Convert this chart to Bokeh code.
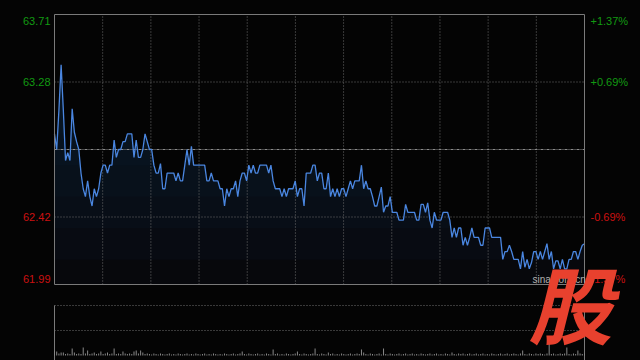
from bokeh.plotting import figure
from bokeh.models import Range1d, Label
from bokeh.embed import file_html
from bokeh.resources import INLINE

# ---------------- data ----------------
price = [
    62.95, 62.85, 63.10, 63.39, 63.10, 62.78, 62.83, 62.78, 63.11, 62.96,
    62.90, 62.85, 62.70, 62.60, 62.55, 62.65, 62.55, 62.49, 62.60, 62.55,
    62.60, 62.70, 62.75, 62.75, 62.70, 62.75, 62.75, 62.91, 62.80, 62.85,
    62.85, 62.90, 62.90, 62.95, 62.95, 62.95, 62.80, 62.91, 62.80, 62.80,
    62.85, 62.95, 62.90, 62.85, 62.85, 62.75, 62.70, 62.70, 62.76, 62.60,
    62.60, 62.70, 62.70, 62.70, 62.70, 62.65, 62.70, 62.65, 62.65, 62.75,
    62.85, 62.75, 62.87, 62.75, 62.75, 62.75, 62.75, 62.75, 62.75, 62.65,
    62.65, 62.70, 62.65, 62.65, 62.65, 62.60, 62.60, 62.49, 62.60, 62.55,
    62.60, 62.60, 62.65, 62.55, 62.65, 62.70, 62.70, 62.65, 62.75, 62.70,
    62.75, 62.70, 62.70, 62.75, 62.75, 62.75, 62.75, 62.70, 62.75, 62.65,
    62.60, 62.60, 62.60, 62.55, 62.60, 62.55, 62.60, 62.60, 62.60, 62.65,
    62.55, 62.60, 62.60, 62.49, 62.70, 62.70, 62.70, 62.75, 62.75, 62.65,
    62.70, 62.70, 62.60, 62.60, 62.70, 62.55, 62.60, 62.55, 62.60, 62.55,
    62.60, 62.60, 62.55, 62.60, 62.65, 62.60, 62.65, 62.65, 62.65, 62.75,
    62.60, 62.65, 62.60, 62.60, 62.55, 62.49, 62.49, 62.55, 62.61, 62.45,
    62.49, 62.49, 62.55, 62.45, 62.45, 62.45, 62.40, 62.40, 62.40, 62.50,
    62.45, 62.45, 62.45, 62.45, 62.40, 62.40, 62.50, 62.50, 62.45, 62.51,
    62.40, 62.35, 62.45, 62.40, 62.40, 62.40, 62.45, 62.45, 62.45, 62.40,
    62.29, 62.35, 62.29, 62.35, 62.35, 62.24, 62.29, 62.24, 62.29, 62.35,
    62.29, 62.29, 62.29, 62.24, 62.24, 62.35, 62.35, 62.35, 62.29, 62.29,
    62.29, 62.29, 62.29, 62.15, 62.20, 62.20, 62.24, 62.20, 62.15, 62.15,
    62.15, 62.09, 62.20, 62.10, 62.15, 62.09, 62.13, 62.20, 62.20, 62.15,
    62.20, 62.15, 62.20, 62.25, 62.15, 62.20, 62.09, 62.14, 62.14, 62.09,
    62.15, 62.09, 62.09, 62.15, 62.15, 62.20, 62.20, 62.15, 62.20, 62.24, 62.25,
]

volume = [
    500, 400, 200, 300, 300, 150, 200, 150, 700, 300,
    150, 200, 150, 800, 200, 500, 150, 200, 300, 150,
    200, 400, 150, 200, 300, 150, 200, 700, 150, 200,
    150, 400, 200, 150, 200, 150, 400, 500, 200, 500,
    300, 150, 200, 150, 100, 200, 150, 100, 200, 150,
    100, 150, 200, 100, 150, 100, 200, 150, 100, 150,
    200, 100, 150, 100, 200, 150, 100, 150, 200, 100,
    150, 100, 200, 150, 100, 150, 100, 200, 150, 100,
    150, 200, 100, 150, 200, 400, 150, 100, 200, 150,
    100, 150, 200, 100, 150, 100, 200, 150, 100, 600,
    150, 200, 100, 150, 100, 200, 150, 100, 150, 200,
    400, 150, 100, 200, 150, 100, 150, 200, 700, 150,
    100, 200, 150, 100, 300, 150, 200, 100, 150, 100,
    200, 150, 100, 150, 200, 100, 150, 200, 150, 600,
    300, 150, 100, 200, 150, 100, 150, 200, 100, 700,
    150, 100, 200, 150, 100, 150, 200, 100, 150, 200,
    100, 150, 200, 100, 150, 100, 200, 150, 100, 150,
    200, 100, 150, 200, 100, 150, 100, 200, 150, 100,
    300, 150, 100, 200, 150, 200, 100, 150, 200, 100,
    150, 200, 100, 150, 200, 100, 150, 100, 200, 150,
    100, 150, 200, 100, 150, 200, 100, 150, 200, 150,
    100, 200, 500, 150, 100, 200, 150, 100, 200, 150,
    200, 150, 100, 200, 1200, 150, 200, 100, 150, 200,
    150, 200, 800, 150, 100, 200, 150, 500, 200, 150,
    200,
]

prev_close = 62.85
price_ticks = [63.71, 63.28, 62.42, 61.99]
pct_labels = ["+1.37%", "+0.69%", "-0.69%", "-1.37%"]
up_color, down_color = "#129a12", "#cc1111"
n_min = 240
n_cols = 11
vol_panel_top = 5000

minutes = list(range(len(price)))
vol_minutes = list(range(len(volume)))
p_lo, p_hi = min(price_ticks), max(price_ticks)

# ---------------- geometry (canvas pixels, frame = whole canvas) ----------------
W, H = 640, 360
x0_px, x1_px = 54, 584          # minute 0 / minute 240
ptop_px, pbot_px = 14, 284      # top / bottom price tick
vbase_px = 355                  # volume zero line
ppx = (x1_px - x0_px) / n_min
ppy = (pbot_px - ptop_px) / (p_hi - p_lo)
vpu = 100.0                     # volume units per pixel

x_range = Range1d(-x0_px / ppx, n_min + (W - x1_px) / ppx)
y_range = Range1d(p_lo - (H - pbot_px) / ppy, p_hi + ptop_px / ppy)


def px_to_price(py):
    return p_hi - (py - ptop_px) / ppy


def px_to_min(px):
    return (px - x0_px) / ppx


p = figure(width=W, height=H, x_range=x_range, y_range=y_range,
           output_backend="svg", toolbar_location=None, title=None,
           x_axis_location=None, y_axis_location=None,
           min_border_left=0, min_border_right=0,
           min_border_top=0, min_border_bottom=0)
p.extra_y_ranges = {"vol": Range1d(-(H - vbase_px) * vpu, vbase_px * vpu)}
p.background_fill_color = "#040404"
p.border_fill_color = "#040404"
p.outline_line_color = None
p.xgrid.visible = False
p.ygrid.visible = False

grid_col = "#6e6e6e"
border_col = "#7a7a7a"

# area fill (simulated vertical gradient)
p.varea(x=minutes, y1=[p_lo] * len(price), y2=price, fill_color="#07080c")
for lvl in (62.15, 62.35, 62.55, 62.75, 62.95):
    p.varea(x=minutes, y1=[min(lvl, v) for v in price], y2=price,
            fill_color="#10203a", fill_alpha=0.14)

# grid of main panel
vx = [k * n_min / n_cols for k in range(1, n_cols)]
p.segment(x0=vx, y0=[p_lo] * len(vx), x1=vx, y1=[p_hi] * len(vx),
          line_color=grid_col, line_dash="1 2", line_width=1)
hy = [price_ticks[1], price_ticks[2]]
p.segment(x0=[0, 0], y0=hy, x1=[n_min, n_min], y1=hy,
          line_color=grid_col, line_dash="1 2", line_width=1)
p.segment(x0=[0], y0=[prev_close], x1=[n_min], y1=[prev_close],
          line_color="#8c8c8c", line_dash="3 1 1 1", line_width=1)

# price line
p.line(minutes, price, line_color="#4a86e0", line_width=1.3)

# main frame
p.quad(left=[0], right=[n_min], bottom=[p_lo], top=[p_hi],
       fill_color=None, line_color=border_col, line_width=1)

# volume panel
p.segment(x0=[0, 0], y0=[vol_panel_top, vol_panel_top / 2], x1=[n_min, n_min],
          y1=[vol_panel_top, vol_panel_top / 2], line_color=grid_col,
          line_dash="1 2", line_width=1, y_range_name="vol")
p.segment(x0=[0, n_min], y0=[-600, -600], x1=[0, n_min], y1=[vol_panel_top, vol_panel_top],
          line_color=border_col, line_width=1, y_range_name="vol")
p.vbar(x=vol_minutes, top=volume, bottom=0, width=0.45, fill_color="#8a8a8a",
       line_color=None, y_range_name="vol")

# tick labels
for i, (t, lab) in enumerate(zip(price_ticks, pct_labels)):
    col = up_color if t > prev_close else down_color
    off = -6 if i == 0 else (6 if i == len(price_ticks) - 1 else 0)
    p.add_layout(Label(x=px_to_min(50), y=t, y_offset=off, text=f"{t:.2f}",
                       text_align="right", text_baseline="middle",
                       text_font="Liberation Sans", text_font_size="11px",
                       text_color=col))
    p.add_layout(Label(x=px_to_min(590), y=t, y_offset=off, text=lab,
                       text_align="left", text_baseline="middle",
                       text_font="Liberation Sans", text_font_size="11px",
                       text_color=col))

# source mark and watermark
p.add_layout(Label(x=px_to_min(532), y=px_to_price(279), text="sina.com.cn",
                   text_align="left", text_baseline="middle",
                   text_font="Liberation Sans", text_font_size="10px",
                   text_color="#b0b0b0"))
p.add_layout(Label(x=px_to_min(570), y=px_to_price(301), text="股",
                   text_align="center", text_baseline="middle",
                   text_font="Noto Sans CJK SC", text_font_style="bold italic",
                   text_font_size="84px", text_color="#e8412e"))

html = file_html(p, INLINE, title="chart")
html = html.replace("</head>",
                    "<style>html,body{background:#040404;}</style></head>", 1)
open("out.html", "w").write(html)
